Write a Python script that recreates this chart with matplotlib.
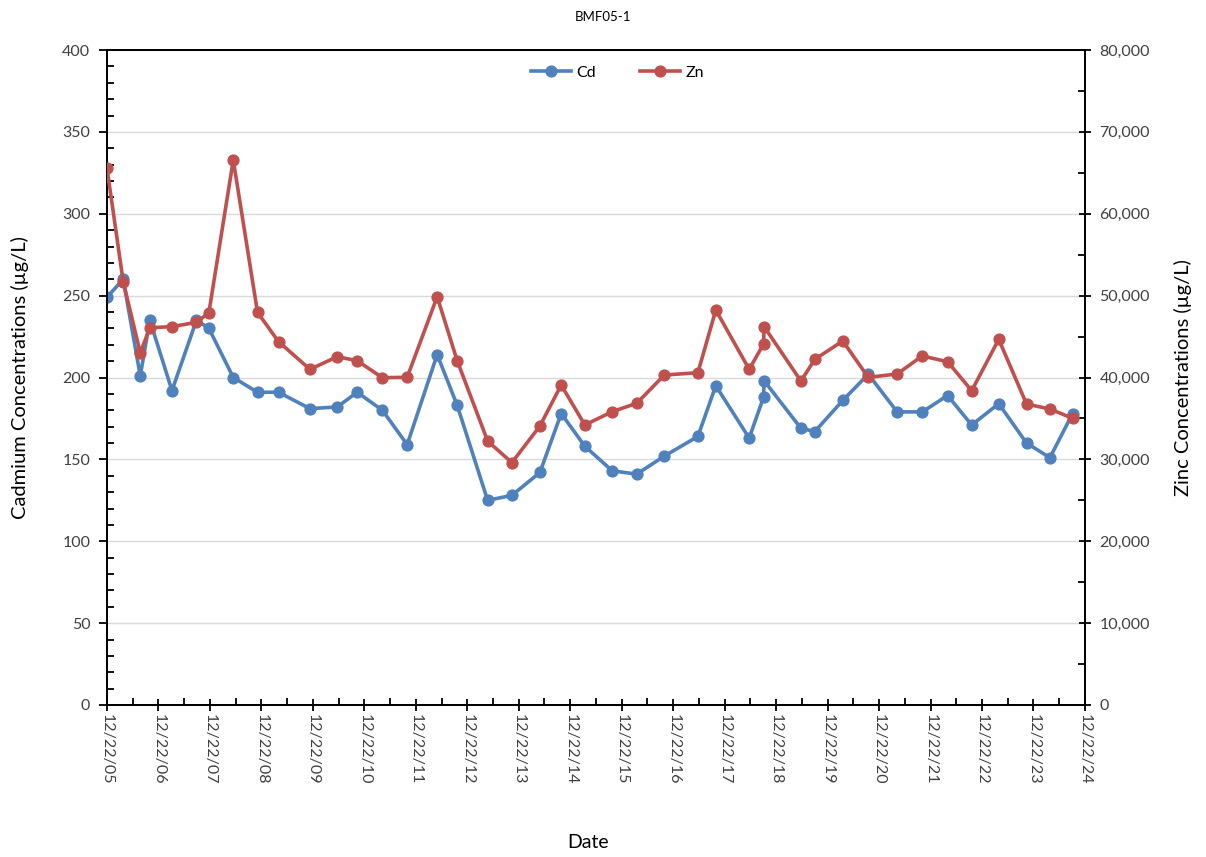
import matplotlib
matplotlib.use("Agg")
import matplotlib.pyplot as plt
import matplotlib.dates as mdates
import matplotlib.ticker as mticker
import pandas as pd

plt.rcParams['font.family'] = ['Lato', 'DejaVu Sans']

dates = ["2005-12-22", "2006-04-16", "2006-08-15", "2006-10-22", "2007-03-28",
         "2007-09-18", "2007-12-15", "2008-06-05", "2008-11-24", "2009-04-22",
         "2009-12-01", "2010-06-13", "2010-11-01", "2011-04-29", "2011-10-22",
         "2012-05-22", "2012-10-11", "2013-05-15", "2013-11-03", "2014-05-21",
         "2014-10-19", "2015-04-05", "2015-10-16", "2016-04-07", "2016-10-20",
         "2017-06-15", "2017-10-20", "2018-06-14", "2018-09-24", "2018-09-28",
         "2019-06-16", "2019-09-23", "2020-04-08", "2020-10-06", "2021-04-29",
         "2021-10-24", "2022-04-22", "2022-10-10", "2023-04-20", "2023-11-03",
         "2024-04-17", "2024-09-25"]

cd = [249, 260, 201, 235, 192, 235, 230, 200, 191, 191,
      181, 182, 191, 180, 159, 214, 183, 125, 128, 142,
      178, 158, 143, 141, 152, 164, 195, 163, 188, 198,
      169, 167, 186, 202, 179, 179, 189, 171, 184, 160,
      151, 178]

zn = [65550, 51700, 43030, 46080, 46210, 46740, 47920, 66560, 47960, 44380,
      41000, 42540, 42050, 39980, 40020, 49870, 42050, 32240, 29600, 34080,
      39080, 34200, 35830, 36850, 40300, 40590, 48240, 41000, 44090, 46210,
      39570, 42220, 44460, 40020, 40430, 42630, 41930, 38390, 44660, 36760,
      36150, 35020]

title = "BMF05-1"
x_label = "Date"
y1_label = "Cadmium Concentrations (\u00b5g/L)"
y2_label = "Zinc Concentrations (\u00b5g/L)"

blue = "#4F81BD"
red = "#C0504D"

t = pd.to_datetime(dates)

fig = plt.figure(figsize=(12.06, 8.57), dpi=100)
ax = fig.add_axes([107/1206, 1-705/857, (1085-107)/1206, (705-50)/857])
ax2 = ax.twinx()

l1, = ax.plot(t, cd, color=blue, lw=2.6, marker='o', ms=7.8, label="Cd", zorder=3)
l2, = ax2.plot(t, zn, color=red, lw=2.6, marker='o', ms=7.8, label="Zn", zorder=3)

ax.set_ylim(0, 400)
ax2.set_ylim(0, 80000)
ax.set_xlim(pd.Timestamp("2005-12-22"), pd.Timestamp("2024-12-22"))

major = [pd.Timestamp(f"{y}-12-22") for y in range(2005, 2025)]
minor = [pd.Timestamp(f"{y}-06-22") for y in range(2006, 2025)]
ax.set_xticks(major)
ax.set_xticks(minor, minor=True)
ax.xaxis.set_major_formatter(mdates.DateFormatter("%m/%d/%y"))

ax.yaxis.set_major_locator(mticker.MultipleLocator(50))
ax.yaxis.set_minor_locator(mticker.MultipleLocator(10))
ax2.yaxis.set_major_locator(mticker.MultipleLocator(10000))
ax2.yaxis.set_minor_locator(mticker.MultipleLocator(5000))
ax2.yaxis.set_major_formatter(mticker.FuncFormatter(lambda v, p: f"{int(v):,}"))

ax.grid(axis='y', which='major', color='#D9D9D9', lw=1.0, zorder=0)
ax.set_axisbelow(True)

for a in (ax, ax2):
    for s in a.spines.values():
        s.set_color('black')
        s.set_linewidth(1.3)

ax.tick_params(axis='x', which='major', direction='inout', length=9, width=1.3,
               labelsize=11.5, colors='black', labelrotation=-90, pad=2)
ax.tick_params(axis='x', which='minor', direction='in', length=5, width=1.3)
ax.tick_params(axis='y', which='major', direction='out', length=6, width=1.3,
               labelsize=11.5, pad=6)
ax.tick_params(axis='y', which='minor', direction='in', length=5, width=1.3)
ax2.tick_params(axis='y', which='major', direction='inout', length=9, width=1.3,
                labelsize=11.5, pad=6)
ax2.tick_params(axis='y', which='minor', direction='in', length=5, width=1.3)
for lab in ax.get_xticklabels():
    lab.set_va('top')
    lab.set_ha('center')

for a in (ax, ax2):
    for lab in a.get_yticklabels() + a.get_xticklabels():
        lab.set_color('#404040')

ax.set_ylabel(y1_label, fontsize=14.5, color='black', labelpad=24)
ax2.set_ylabel(y2_label, fontsize=14.5, color='black', labelpad=17)
fig.text(588/1206, 1-843/857, x_label, fontsize=14, ha='center', va='center')
fig.text(603/1206, 1-17/857, title, fontsize=9.5, ha='center', va='center')

leg = ax2.legend(handles=[l1, l2], loc='upper center', bbox_to_anchor=(0.522, 0.998),
                 ncol=2, frameon=False, fontsize=11.5, handlelength=2.5,
                 columnspacing=2.8, handletextpad=0.3)

fig.savefig("out.png", dpi=100)
